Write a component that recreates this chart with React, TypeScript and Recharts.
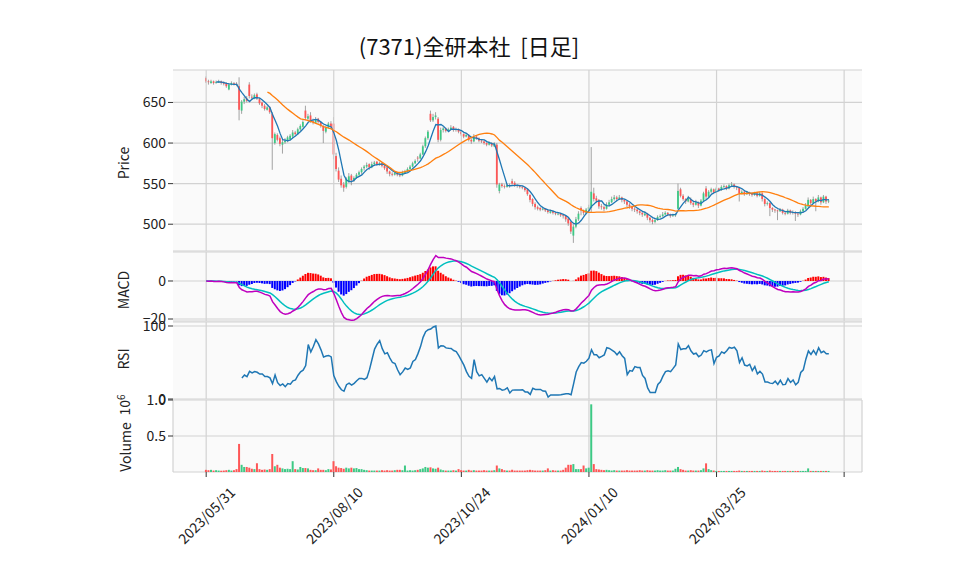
import React from 'react'
import { ComposedChart, Bar, Line, XAxis, YAxis, CartesianGrid, Cell, ReferenceLine } from 'recharts'

const title = '(7371)全研本社  [日足]'
const tickIdx = [0, 50, 100, 150, 200, 250]
const tickLabels = ['2023/05/31', '2023/08/10', '2023/10/24', '2024/01/10', '2024/03/25', '']

const opens = [
  680, 676, 674, 676, 674, 675, 676, 674, 674, 666,
  672, 674, 673, 670, 640, 651, 655, 672, 657, 655,
  660, 654, 650, 646, 641, 644, 636, 600, 610, 606,
  598, 601, 603, 605, 608, 613, 611, 617, 620, 640,
  630, 634, 627, 625, 630, 626, 621, 614, 619, 624,
  624, 584, 566, 556, 549, 546, 553, 560, 554, 557,
  561, 564, 569, 571, 574, 570, 574, 577, 573, 575,
  572, 570, 565, 562, 561, 563, 561, 560, 563, 565,
  568, 571, 575, 582, 581, 586, 596, 606, 636, 628,
  632, 630, 604, 616, 618, 615, 617, 620, 616, 617,
  614, 611, 608, 610, 604, 602, 608, 606, 603, 602,
  600, 598, 600, 596, 598, 541, 549, 547, 546, 548,
  553, 551, 548, 547, 546, 545, 543, 536, 531, 525,
  521, 520, 518, 519, 517, 514, 516, 514, 512, 513,
  511, 510, 507, 503, 486, 497, 506, 520, 517, 514,
  518, 520, 538, 532, 530, 522, 521, 519, 524, 527,
  531, 533, 531, 533, 530, 528, 524, 522, 519, 518,
  516, 514, 511, 513, 508, 505, 503, 505, 509, 510,
  512, 514, 512, 510, 511, 519, 543, 535, 531, 528,
  531, 526, 524, 527, 523, 529, 544, 534, 540, 543,
  539, 544, 542, 546, 547, 544, 548, 549, 546, 545,
  538, 540, 537, 539, 537, 536, 538, 535, 538, 531,
  525, 526, 520, 518, 517, 516, 518, 514, 513, 517,
  514, 515, 513, 512, 516, 519, 522, 530, 526, 531,
  528, 533, 527, 534, 528,
]

const highs = [
  682, 678, 678, 677, 677, 678, 677, 676, 675, 674,
  676, 675, 675, 681, 653, 657, 658, 675, 660, 661,
  662, 656, 651, 648, 646, 645, 638, 613, 612, 608,
  604, 606, 609, 611, 616, 615, 619, 623, 628, 646,
  636, 638, 630, 632, 631, 627, 622, 621, 626, 627,
  632, 588, 570, 560, 552, 558, 563, 562, 559, 563,
  566, 570, 573, 576, 575, 577, 578, 578, 577, 576,
  573, 571, 566, 564, 565, 564, 563, 566, 567, 570,
  573, 577, 580, 584, 588, 598, 608, 616, 640, 636,
  638, 632, 619, 620, 619, 619, 622, 621, 619, 618,
  615, 612, 612, 611, 606, 611, 609, 607, 605, 603,
  601, 602, 601, 601, 600, 551, 551, 549, 550, 550,
  556, 553, 549, 548, 547, 546, 544, 537, 532, 527,
  523, 521, 521, 520, 518, 518, 517, 515, 515, 514,
  512, 511, 508, 505, 500, 509, 516, 522, 518, 520,
  524, 595, 545, 535, 531, 525, 523, 527, 530, 534,
  536, 535, 536, 534, 531, 529, 526, 523, 521, 519,
  517, 515, 516, 514, 509, 507, 507, 511, 512, 515,
  516, 515, 513, 513, 514, 550, 545, 537, 532, 535,
  533, 528, 530, 528, 531, 540, 547, 542, 545, 544,
  546, 545, 548, 549, 548, 550, 552, 550, 547, 546,
  542, 541, 541, 540, 539, 540, 539, 540, 539, 532,
  528, 527, 521, 519, 518, 520, 519, 516, 519, 518,
  517, 516, 514, 518, 521, 526, 533, 531, 534, 532,
  536, 534, 536, 535, 531,
]

const lows = [
  674, 672, 673, 672, 673, 674, 672, 671, 668, 665,
  671, 671, 670, 628, 636, 648, 650, 655, 653, 654,
  653, 647, 643, 640, 640, 636, 567, 598, 602, 596,
  587, 599, 601, 603, 606, 609, 610, 615, 619, 628,
  628, 625, 623, 624, 624, 619, 600, 612, 618, 618,
  580, 565, 552, 545, 540, 544, 551, 548, 552, 556,
  559, 562, 566, 569, 567, 569, 572, 572, 572, 570,
  567, 562, 559, 559, 560, 559, 558, 559, 562, 564,
  567, 570, 574, 577, 580, 585, 594, 604, 626, 626,
  629, 601, 602, 613, 613, 614, 616, 614, 614, 612,
  609, 606, 607, 602, 599, 601, 604, 601, 600, 598,
  596, 597, 595, 595, 545, 538, 545, 544, 545, 545,
  548, 546, 545, 544, 543, 540, 535, 527, 522, 518,
  517, 516, 517, 515, 513, 513, 512, 511, 511, 509,
  507, 503, 498, 488, 477, 495, 504, 511, 511, 512,
  516, 515, 528, 526, 519, 518, 516, 518, 522, 526,
  529, 528, 530, 527, 525, 521, 519, 516, 515, 513,
  511, 509, 510, 505, 502, 500, 501, 504, 507, 509,
  511, 510, 508, 509, 509, 518, 533, 529, 525, 527,
  524, 521, 523, 520, 522, 528, 530, 533, 538, 537,
  538, 540, 541, 544, 542, 543, 546, 544, 542, 528,
  537, 535, 536, 535, 534, 535, 533, 534, 528, 522,
  523, 510, 515, 514, 505, 515, 512, 511, 512, 512,
  512, 504, 509, 511, 514, 518, 521, 522, 525, 516,
  527, 524, 526, 525, 526,
]

const closes = [
  676, 675, 676, 674, 675, 676, 674, 673, 670, 672,
  674, 673, 672, 641, 651, 654, 652, 658, 656, 659,
  655, 649, 646, 642, 644, 638, 606, 611, 604, 599,
  601, 603, 607, 609, 613, 611, 617, 621, 626, 631,
  633, 627, 626, 629, 626, 621, 615, 619, 624, 620,
  586, 568, 555, 548, 545, 556, 559, 554, 557, 561,
  564, 568, 571, 573, 570, 574, 576, 574, 575, 572,
  569, 565, 562, 561, 563, 561, 560, 564, 565, 568,
  571, 575, 578, 581, 586, 596, 606, 614, 628, 632,
  634, 604, 616, 618, 615, 617, 619, 616, 617, 614,
  611, 608, 610, 604, 602, 608, 606, 603, 602, 600,
  598, 600, 597, 599, 549, 549, 547, 546, 548, 547,
  550, 548, 547, 546, 545, 542, 537, 530, 525, 521,
  519, 518, 519, 517, 515, 516, 514, 513, 513, 511,
  510, 506, 501, 491, 497, 506, 513, 517, 514, 518,
  521, 540, 531, 529, 522, 521, 519, 524, 527, 531,
  533, 531, 533, 530, 528, 524, 522, 519, 518, 516,
  514, 512, 513, 508, 505, 503, 505, 509, 510, 512,
  514, 512, 510, 511, 512, 541, 535, 531, 528, 532,
  526, 524, 527, 523, 529, 538, 534, 540, 543, 539,
  544, 542, 546, 547, 544, 548, 549, 546, 545, 538,
  540, 537, 539, 537, 536, 538, 535, 538, 531, 525,
  526, 520, 518, 517, 516, 518, 514, 513, 517, 514,
  515, 513, 512, 516, 519, 523, 530, 526, 531, 528,
  533, 527, 534, 528, 529,
]

const volumes = [
  30000, 25000, 30000, 20000, 25000, 20000, 18000, 20000, 25000, 30000,
  20000, 25000, 40000, 390000, 100000, 70000, 70000, 60000, 45000, 40000,
  120000, 40000, 30000, 35000, 30000, 40000, 250000, 80000, 100000, 60000,
  50000, 40000, 45000, 40000, 150000, 40000, 35000, 70000, 55000, 55000,
  50000, 30000, 25000, 25000, 50000, 30000, 30000, 25000, 40000, 35000,
  150000, 80000, 60000, 55000, 45000, 60000, 50000, 60000, 50000, 55000,
  40000, 40000, 30000, 25000, 20000, 20000, 20000, 20000, 20000, 25000,
  20000, 25000, 20000, 20000, 25000, 30000, 30000, 25000, 90000, 20000,
  25000, 20000, 25000, 30000, 40000, 50000, 70000, 60000, 65000, 50000,
  45000, 60000, 35000, 25000, 20000, 20000, 20000, 25000, 20000, 40000,
  25000, 20000, 20000, 30000, 20000, 25000, 20000, 20000, 20000, 25000,
  20000, 20000, 20000, 25000, 90000, 50000, 40000, 25000, 20000, 20000,
  30000, 20000, 20000, 20000, 20000, 20000, 25000, 30000, 25000, 20000,
  20000, 20000, 20000, 25000, 50000, 20000, 25000, 20000, 20000, 20000,
  30000, 60000, 100000, 100000, 110000, 40000, 40000, 40000, 90000, 50000,
  60000, 940000, 110000, 40000, 35000, 30000, 25000, 30000, 25000, 20000,
  25000, 20000, 20000, 20000, 20000, 25000, 20000, 20000, 20000, 20000,
  25000, 20000, 20000, 25000, 20000, 20000, 20000, 25000, 20000, 20000,
  25000, 20000, 20000, 20000, 45000, 70000, 40000, 30000, 20000, 20000,
  25000, 20000, 20000, 20000, 25000, 50000, 120000, 40000, 25000, 20000,
  15000, 15000, 15000, 15000, 15000, 15000, 15000, 15000, 15000, 20000,
  15000, 15000, 15000, 15000, 15000, 15000, 15000, 15000, 20000, 15000,
  15000, 20000, 15000, 15000, 15000, 15000, 15000, 15000, 15000, 15000,
  15000, 15000, 15000, 15000, 15000, 15000, 50000, 15000, 15000, 15000,
  15000, 15000, 15000, 15000, 15000,
]

const UP = '#3dc985'
const DOWN = '#fe5656'
const WICK = '#8c8c8c'
const GRID = '#d2d2d2'
const FONT = '"Noto Sans CJK JP", "Noto Sans", sans-serif'

// indicators derived from the closes (same way the original chart was built)
function sma(src: number[], n: number) {
  return src.map((_, i) => {
    if (i < n - 1) return null
    let s = 0
    for (let k = i - n + 1; k <= i; k++) s += src[k]
    return s / n
  })
}

function ema(src: number[], n: number) {
  const a = 2 / (n + 1)
  const out: number[] = []
  src.forEach((v, i) => out.push(i === 0 ? v : v * a + out[i - 1] * (1 - a)))
  return out
}

function rsiOf(src: number[], n: number) {
  return src.map((_, i) => {
    if (i < n) return null
    let up = 0
    let dn = 0
    for (let k = i - n + 1; k <= i; k++) {
      const d = src[k] - src[k - 1]
      if (d > 0) up += d
      else dn -= d
    }
    if (up + dn === 0) return 50
    return (100 * up) / (up + dn)
  })
}

const ma5 = sma(closes, 5)
const ma25 = sma(closes, 25)
const e12 = ema(closes, 12)
const e26 = ema(closes, 26)
const macd = e12.map((v, i) => v - e26[i])
const signal = ema(macd, 9)
const rsi = rsiOf(closes, 14)

const rows = closes.map((c, i) => ({
  i,
  o: opens[i],
  h: highs[i],
  l: lows[i],
  c,
  range: [lows[i], highs[i]],
  v: volumes[i],
  ma5: ma5[i],
  ma25: ma25[i],
  macd: macd[i],
  signal: signal[i],
  hist: macd[i] - signal[i],
  rsi: rsi[i],
}))

function Candle(props: any) {
  const { x, y, width, height, payload } = props
  if (!payload) return null
  const { o, h, l, c } = payload
  const top = Math.min(y, y + height)
  const hh = Math.abs(height)
  const ppu = h - l > 0 ? hh / (h - l) : 0
  const bodyTop = top + (h - Math.max(o, c)) * ppu
  const bodyH = Math.max(Math.abs(o - c) * ppu, 0.8)
  const cx = x + width / 2
  const bw = 1.8
  return (
    <g>
      <line x1={cx} x2={cx} y1={top} y2={top + hh} stroke={WICK} strokeWidth={0.8} />
      <rect x={cx - bw / 2} y={bodyTop} width={bw} height={bodyH} fill={c >= o ? UP : DOWN} />
    </g>
  )
}

function DateTick(props: any) {
  const { x, y, payload } = props
  const label = tickLabels[tickIdx.indexOf(payload.value)] ?? ''
  return (
    <text
      transform={`translate(${x},${y + 38}) rotate(-45)`}
      textAnchor="middle"
      dominantBaseline="central"
      fontSize={14}
      fill="#222"
      fontFamily={FONT}
    >
      {label}
    </text>
  )
}

const CHART_W = 958
const Y_W = 60
const margin = { top: 0, right: 96, bottom: 0, left: 173 - Y_W }
const yTick = { fontSize: 14, fill: '#222', fontFamily: FONT }
const fmtMinus = (v: number) => (v < 0 ? `−${Math.abs(v)}` : `${v}`)

function HiddenX() {
  return (
    <XAxis
      dataKey="i"
      type="number"
      domain={[-13, 257]}
      ticks={tickIdx}
      allowDataOverflow
      height={0}
      tick={false}
      axisLine={false}
      tickLine={false}
    />
  )
}

function VGrid() {
  return tickIdx.map((t) => (
    <ReferenceLine key={t} x={t} stroke={GRID} strokeWidth={1.2} ifOverflow="extendDomain" />
  ))
}

function AxisTitle({ x, y, children }: { x: number; y: number; children: React.ReactNode }) {
  return (
    <div
      style={{
        position: 'absolute',
        left: x,
        top: y,
        transform: 'translate(-50%, -50%) rotate(-90deg)',
        whiteSpace: 'nowrap',
        fontSize: 14,
        color: '#222',
        fontFamily: FONT,
      }}
    >
      {children}
    </div>
  )
}

export default function App() {
  return (
    <div style={{ position: 'absolute', left: 0, top: 0, width: 958, height: 575, background: '#fff', fontFamily: FONT }}>
      <style>{'.recharts-surface { overflow: visible; } .recharts-wrapper { overflow: visible; }'}</style>
      <div
        style={{
          position: 'absolute',
          left: 0,
          width: 938,
          top: 29,
          textAlign: 'center',
          fontSize: 22,
          color: '#111',
          whiteSpace: 'pre',
        }}
      >
        {title}
      </div>

      {/* price */}
      <div style={{ position: 'absolute', left: 0, top: 70 }}>
        <ComposedChart width={CHART_W} height={181} data={rows} margin={margin}>
          <CartesianGrid stroke={GRID} strokeWidth={1.2} fill="#fafafa" vertical={false} />
          {HiddenX()}
          <YAxis
            width={Y_W}
            domain={[467, 690]}
            ticks={[500, 550, 600, 650]}
            interval={0}
            allowDataOverflow
            axisLine={false}
            tickSize={5}
            tickLine={{ stroke: '#333' }}
            tick={yTick}
          />
          {VGrid()}
          <Bar dataKey="range" barSize={2} isAnimationActive={false} shape={(p: any) => <Candle {...p} />} />
          <Line dataKey="ma5" stroke="#1f77b4" strokeWidth={1.3} dot={false} isAnimationActive={false} />
          <Line dataKey="ma25" stroke="#ff7f0e" strokeWidth={1.3} dot={false} isAnimationActive={false} />
        </ComposedChart>
      </div>

      {/* MACD */}
      <div style={{ position: 'absolute', left: 0, top: 252 }}>
        <ComposedChart width={CHART_W} height={69} data={rows} margin={margin}>
          <CartesianGrid stroke={GRID} strokeWidth={1.2} fill="#fafafa" vertical={false} />
          {HiddenX()}
          <YAxis
            width={Y_W}
            domain={[-21.05, 15.26]}
            ticks={[-20, 0]}
            interval={0}
            allowDataOverflow
            axisLine={false}
            tickSize={5}
            tickLine={{ stroke: '#333' }}
            tick={yTick}
            tickFormatter={fmtMinus}
          />
          {VGrid()}
          <Bar dataKey="hist" barSize={2} isAnimationActive={false}>
            {rows.map((r) => (
              <Cell key={r.i} fill={r.hist >= 0 ? '#ff0000' : '#0000ff'} />
            ))}
          </Bar>
          <Line dataKey="signal" stroke="#00bfbf" strokeWidth={1.5} dot={false} isAnimationActive={false} />
          <Line dataKey="macd" stroke="#bf00bf" strokeWidth={1.5} dot={false} isAnimationActive={false} />
        </ComposedChart>
      </div>

      {/* RSI */}
      <div style={{ position: 'absolute', left: 0, top: 322 }}>
        <ComposedChart width={CHART_W} height={77} data={rows} margin={margin}>
          <CartesianGrid stroke={GRID} strokeWidth={1.2} fill="#fafafa" vertical={false} />
          {HiddenX()}
          <YAxis
            width={Y_W}
            domain={[0, 105.5]}
            ticks={[0, 100]}
            interval={0}
            allowDataOverflow
            axisLine={false}
            tickSize={5}
            tickLine={{ stroke: '#333' }}
            tick={yTick}
          />
          {VGrid()}
          <Line dataKey="rsi" stroke="#1f77b4" strokeWidth={1.5} dot={false} isAnimationActive={false} />
        </ComposedChart>
      </div>

      {/* volume */}
      <div style={{ position: 'absolute', left: 0, top: 400 }}>
        <ComposedChart width={CHART_W} height={172} data={rows} margin={margin}>
          <CartesianGrid stroke={GRID} strokeWidth={1.2} fill="#fafafa" />
          <XAxis
            dataKey="i"
            type="number"
            domain={[-13, 257]}
            ticks={tickIdx}
            interval={0}
            allowDataOverflow
            height={100}
            axisLine={false}
            tickSize={5}
            tickMargin={0}
            tickLine={{ stroke: '#333' }}
            tick={<DateTick />}
          />
          <YAxis
            width={Y_W}
            domain={[0, 1000000]}
            ticks={[500000, 1000000]}
            interval={0}
            allowDataOverflow
            axisLine={false}
            tickSize={5}
            tickLine={{ stroke: '#333' }}
            tick={yTick}
            tickFormatter={(v: number) => (v / 1e6).toFixed(1)}
          />
          <Bar dataKey="v" barSize={2} isAnimationActive={false}>
            {rows.map((r) => (
              <Cell key={r.i} fill={r.c >= r.o ? UP : DOWN} />
            ))}
          </Bar>
        </ComposedChart>
      </div>

      <AxisTitle x={123} y={163}>Price</AxisTitle>
      <AxisTitle x={123} y={290}>MACD</AxisTitle>
      <AxisTitle x={123} y={359}>RSI</AxisTitle>
      <AxisTitle x={125} y={447}>Volume</AxisTitle>
      <AxisTitle x={123} y={405}>
        <span>
          10<sup style={{ fontSize: 10 }}>6</sup>
        </span>
      </AxisTitle>
    </div>
  )
}
